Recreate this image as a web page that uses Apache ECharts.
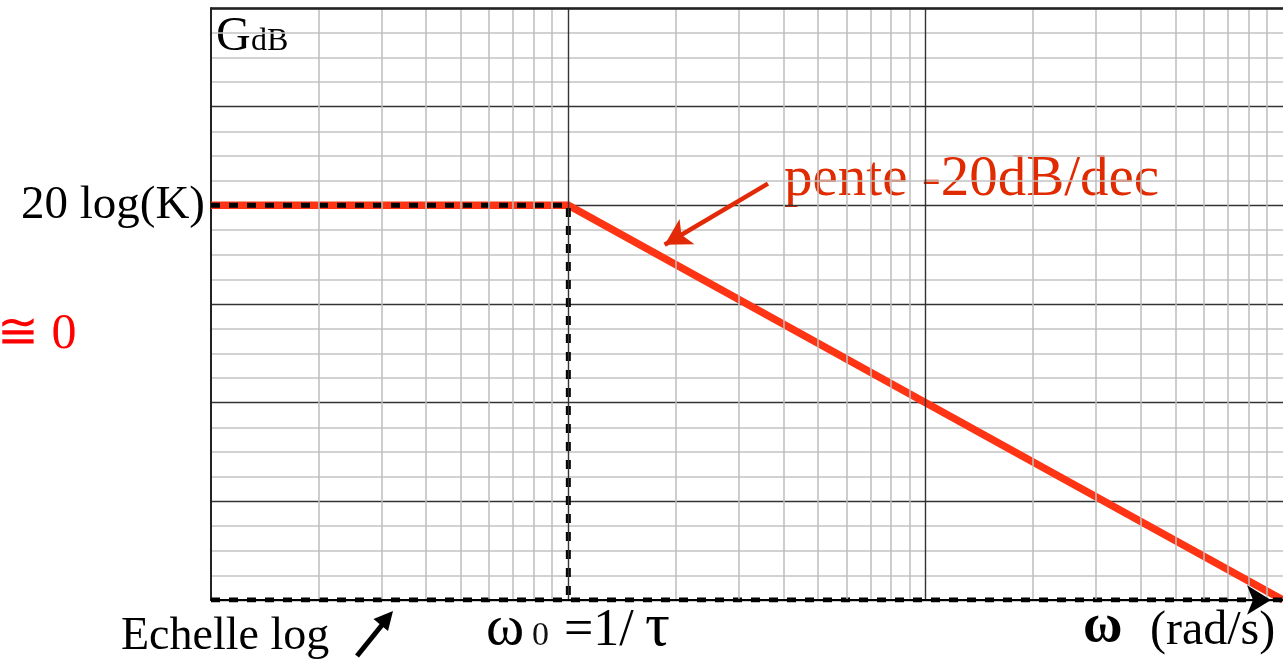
<!DOCTYPE html>
<html>
<head>
<meta charset="utf-8">
<title>Diagramme de Bode – gain asymptotique</title>
<script src="https://cdn.jsdelivr.net/npm/echarts@6/dist/echarts.min.js"></script>
<style>
  html, body { margin: 0; padding: 0; background: #fff; }
  #chart { width: 1283px; height: 660px; }
</style>
</head>
<body>
<div id="chart"></div>
<script>
// Frequency axis: three decades (rad/s), corner at omega0
const omegaMin = 1;
const omegaMax = 1000;
const omega0 = 10;

// Gain axis (dB)
const gainMin = 0;
const gainMax = 60;
const gainStep = 10;
const gainK = 40;            // 20 log(K)

// Asymptotic gain: flat up to omega0, then -20 dB/decade
const asymptote = [[1, 40], [10, 40], [100, 20], [1000, 0]];

// Construction lines (dashed)
const plateauGuide = [[1, 40], [10, 40], [10, 0]];
const baseGuide = [[1, 0], [1000, 0]];

// Log-grid lines: decades and intermediate 2..9 of each decade
const decadeFreqs = [10, 100];
const minorFreqs = [2, 3, 4, 5, 6, 7, 8, 9, 20, 30, 40, 50, 60, 70, 80, 90, 200, 300, 400, 500, 600, 700, 800, 900];

// Pointer towards the sloped asymptote, in (rad/s, dB)
const slopeArrow = [[36.2, 42.2], [18.6, 36.0]];

const serif = '"Liberation Serif", "DejaVu Serif", serif';
const chart = echarts.init(document.getElementById('chart'), null, { renderer: 'canvas' });

const option = {
  animation: false,
  backgroundColor: '#ffffff',
  grid: { left: 211, right: 0, top: 8, bottom: 60, containLabel: false },
  xAxis: {
    type: 'log',
    logBase: 10,
    min: omegaMin,
    max: omegaMax,
    zlevel: 1,
    axisLabel: { show: false },
    axisTick: { show: false },
    axisLine: {
      show: true,
      lineStyle: { color: '#000', width: 2 },
      symbol: ['none', 'arrow'],
      symbolSize: [22, 24],
      symbolOffset: [0, -12]
    },
    splitLine: { show: false }
  },
  yAxis: {
    type: 'value',
    min: gainMin,
    max: gainMax,
    interval: gainStep,
    axisTick: { show: false },
    axisLine: { show: true, lineStyle: { color: '#222', width: 2 } },
    axisLabel: {
      show: true,
      margin: 6,
      color: '#000',
      fontFamily: serif,
      fontSize: 47,
      formatter: v => (v === gainK ? '20 log(K)' : '')
    },
    splitLine: { show: true, lineStyle: { color: '#333', width: 1.4 } },
    minorTick: { show: false, splitNumber: 4 },
    minorSplitLine: { show: true, lineStyle: { color: '#c4c4c4', width: 1.5 } }
  },
  series: [
    {
      name: 'grille',
      type: 'line',
      z: 1,
      silent: true,
      data: [[omegaMin, gainMin]],
      symbol: 'none',
      lineStyle: { opacity: 0 },
      markLine: {
        silent: true,
        symbol: ['none', 'none'],
        label: { show: false },
        lineStyle: { color: '#bdbdbd', width: 1.5, type: 'solid' },
        data: minorFreqs.map(f => ({ xAxis: f }))
          .concat(decadeFreqs.map(f => ({ xAxis: f, lineStyle: { color: '#333', width: 1.4, type: 'solid' } })))
          .concat([{ yAxis: gainMax, lineStyle: { color: '#222', width: 2.5, type: 'solid' } }])
      }
    },
    {
      name: 'asymptote',
      type: 'line',
      z: 3,
      data: asymptote,
      symbol: 'none',
      lineStyle: { color: '#ff3414', width: 7.5, cap: 'butt', join: 'miter' },
      markLine: {
        silent: true,
        symbol: ['none', 'arrow'],
        symbolSize: [22, 26],
        label: { show: false },
        lineStyle: { color: '#e22a08', width: 4.5, type: 'solid' },
        data: [[{ coord: slopeArrow[0] }, { coord: slopeArrow[1] }]]
      }
    },
    {
      name: 'plateau',
      type: 'line',
      z: 4,
      data: plateauGuide,
      symbol: 'none',
      lineStyle: { color: '#000', width: 5, type: [9, 9] }
    },
    {
      name: 'base',
      type: 'line',
      z: 4,
      data: baseGuide,
      symbol: 'none',
      lineStyle: { color: '#000', width: 5, type: [9, 9] }
    }
  ],
  graphic: [
    { type: 'text', left: 216, top: 13, silent: true,
      style: { text: 'G', font: '48px ' + serif, fill: '#000' } },
    { type: 'text', left: 251, top: 26, silent: true,
      style: { text: 'dB', font: '32px ' + serif, fill: '#000' } },
    { type: 'text', left: 784, top: 152, silent: true,
      style: { text: 'pente -20dB/dec', font: '57px ' + serif, fill: '#e02a00' } },
    { type: 'text', left: -3, top: 310, silent: true,
      style: { text: '≅ 0', font: '50px ' + serif, fill: '#ff0000' } },
    { type: 'text', left: 121, top: 614, silent: true,
      style: { text: 'Echelle log', font: '46px ' + serif, fill: '#000' } },
    { type: 'line', silent: true,
      shape: { x1: 357, y1: 656, x2: 382, y2: 625 },
      style: { stroke: '#000', lineWidth: 5 } },
    { type: 'polygon', silent: true,
      shape: { points: [[393, 611], [373.5, 619], [388, 631]] },
      style: { fill: '#000' } },
    { type: 'text', left: 486, top: 600, silent: true,
      style: { text: 'ω', font: '58px ' + serif, fill: '#000' } },
    { type: 'text', left: 532, top: 619, silent: true,
      style: { text: '0', font: '34px ' + serif, fill: '#111' } },
    { type: 'text', left: 564, top: 605, silent: true,
      style: { text: '=1/', font: '52px ' + serif, fill: '#000' } },
    { type: 'text', left: 645, top: 598, silent: true,
      style: { text: 'τ', font: '62px ' + serif, fill: '#000' } },
    { type: 'text', left: 1083, top: 600, silent: true,
      style: { text: 'ω', font: 'bold 54px ' + serif, fill: '#000' } },
    { type: 'text', left: 1150, top: 607, silent: true,
      style: { text: '(rad/s)', font: '48px ' + serif, fill: '#000' } }
  ]
};

chart.setOption(option);
</script>
</body>
</html>
